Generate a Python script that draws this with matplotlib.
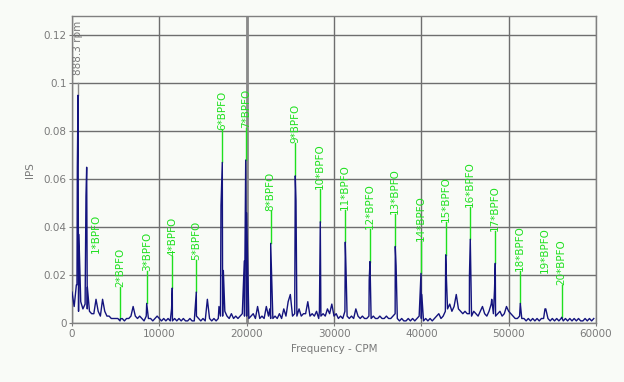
import numpy as np
import matplotlib
matplotlib.use('Agg')
import matplotlib.pyplot as plt
from matplotlib.ticker import FixedLocator, FixedFormatter

# ---------------- data ----------------
bin_width_cpm = 250
noise_floor_ips = [
    0.013, 0.007, 0.016, 0.005, 0.009, 0.006, 0.008, 0.006, 0.005, 0.004,
    0.004, 0.010, 0.005, 0.003, 0.010, 0.005, 0.003, 0.003, 0.002, 0.002,
    0.002, 0.002, 0.001, 0.002, 0.001, 0.002, 0.002, 0.003, 0.007, 0.003,
    0.002, 0.003, 0.002, 0.001, 0.003, 0.002, 0.002, 0.001, 0.002, 0.003,
    0.002, 0.001, 0.002, 0.001, 0.002, 0.001, 0.001, 0.002, 0.001, 0.002,
    0.001, 0.002, 0.001, 0.001, 0.002, 0.001, 0.001, 0.003, 0.002, 0.001,
    0.002, 0.001, 0.010, 0.002, 0.001, 0.002, 0.001, 0.002, 0.003, 0.003,
    0.005, 0.003, 0.002, 0.004, 0.002, 0.003, 0.002, 0.003, 0.004, 0.003,
    0.003, 0.002, 0.003, 0.004, 0.002, 0.007, 0.002, 0.003, 0.002, 0.007,
    0.003, 0.002, 0.002, 0.003, 0.002, 0.004, 0.002, 0.006, 0.003, 0.009,
    0.012, 0.003, 0.004, 0.003, 0.006, 0.003, 0.004, 0.004, 0.009, 0.003,
    0.004, 0.003, 0.005, 0.002, 0.003, 0.004, 0.003, 0.006, 0.004, 0.008,
    0.003, 0.004, 0.002, 0.003, 0.002, 0.005, 0.003, 0.002, 0.003, 0.002,
    0.006, 0.003, 0.002, 0.003, 0.002, 0.002, 0.003, 0.002, 0.003, 0.002,
    0.002, 0.003, 0.002, 0.002, 0.003, 0.002, 0.002, 0.003, 0.004, 0.002,
    0.001, 0.002, 0.001, 0.001, 0.002, 0.001, 0.002, 0.001, 0.002, 0.003,
    0.002, 0.001, 0.002, 0.001, 0.002, 0.001, 0.002, 0.003, 0.004, 0.002,
    0.003, 0.005, 0.006, 0.008, 0.005, 0.007, 0.012, 0.006, 0.005, 0.004,
    0.005, 0.004, 0.004, 0.003, 0.005, 0.004, 0.003, 0.005, 0.007, 0.004,
    0.003, 0.005, 0.008, 0.004, 0.003, 0.004, 0.005, 0.003, 0.004, 0.007,
    0.005, 0.004, 0.003, 0.002, 0.002, 0.003, 0.002, 0.002, 0.001, 0.002,
    0.001, 0.002, 0.001, 0.002, 0.001, 0.002, 0.002, 0.006, 0.002, 0.001,
    0.002, 0.001, 0.002, 0.001, 0.002, 0.001, 0.002, 0.001, 0.002, 0.001,
    0.002, 0.001, 0.002, 0.001, 0.001, 0.002, 0.001, 0.002, 0.001, 0.002,
]

peak_cpm = [570, 610, 690, 790, 1600, 1680, 1760,
            5530, 8553, 11400, 11484, 14130, 14232,
            16830, 17060, 17209, 17330, 19730, 19889, 20000,
            22640, 22751, 25568, 25650, 28330, 28430,
            31294, 31380, 34030, 34121, 37018, 37110,
            39960, 40050, 42788, 42880, 45510, 45605,
            48060, 48380, 48467, 51332, 54158, 56070]
peak_ips = [0.016, 0.065, 0.095, 0.037, 0.053, 0.065, 0.015,
            0.0018, 0.0083, 0.006, 0.0147, 0.008, 0.013,
            0.007, 0.049, 0.067, 0.022, 0.026, 0.068, 0.046,
            0.006, 0.0333, 0.0614, 0.051, 0.005, 0.0423,
            0.0338, 0.022, 0.018, 0.0257, 0.032, 0.024,
            0.0208, 0.012, 0.0285, 0.018, 0.020, 0.035,
            0.010, 0.014, 0.025, 0.0083, 0.006, 0.0025]

harmonic_labels = ['1*BPFO', '2*BPFO', '3*BPFO', '4*BPFO', '5*BPFO',
                   '6*BPFO', '7*BPFO', '8*BPFO', '9*BPFO', '10*BPFO',
                   '11*BPFO', '12*BPFO', '13*BPFO', '14*BPFO', '15*BPFO',
                   '16*BPFO', '17*BPFO', '18*BPFO', '19*BPFO', '20*BPFO']
harmonic_cpm = [2748, 5530, 8553, 11484, 14232, 17209, 19889, 22751,
                25568, 28430, 31294, 34121, 37018, 39960, 42788, 45605,
                48467, 51332, 54158, 56070]
harmonic_ips = [0.0158, 0.0018, 0.0083, 0.0147, 0.013, 0.067, 0.068,
                0.0333, 0.0614, 0.0423, 0.0338, 0.0257, 0.032, 0.0208,
                0.0285, 0.035, 0.025, 0.0083, 0.0073, 0.0025]
harmonic_line = [False] + [True] * 17 + [False, True]

speed_label = '888.3 rpm'
speed_cpm = 690
speed_ips = 0.095
speed_marker_top = 0.1

x_ticks = [0, 10000, 20000, 30000, 40000, 50000, 60000]
x_tick_labels = ['0', '10000', '20000', '30000', '40000', '50000', '60000']
y_ticks = [0, 0.02, 0.04, 0.06, 0.08, 0.1, 0.12]
y_tick_labels = ['0', '0.02', '0.04', '0.06', '0.08', '0.1', '0.12']

# ---------------- build spectrum ----------------
noise_cpm = np.arange(len(noise_floor_ips)) * bin_width_cpm
freq = np.concatenate([noise_cpm, np.array(peak_cpm, float)])
amp = np.concatenate([np.array(noise_floor_ips), np.array(peak_ips)])
order = np.argsort(freq, kind='stable')
freq, amp = freq[order], amp[order]

# ---------------- style ----------------
bg = '#f9fbf7'
grid_c = '#6e6e6e'
text_c = '#7a7a7a'
green = '#1fe01f'
navy = '#14147e'

fig = plt.figure(figsize=(6.24, 3.82), dpi=100, facecolor=bg)
ax = fig.add_axes([72 / 624, 1 - 323.3 / 382, 524 / 624, (323.3 - 16) / 382])
ax.set_facecolor(bg)
ax.set_xlim(0, 60000)
ax.set_ylim(0, 0.128)

ax.xaxis.set_major_locator(FixedLocator(x_ticks))
ax.xaxis.set_major_formatter(FixedFormatter(x_tick_labels))
ax.yaxis.set_major_locator(FixedLocator(y_ticks))
ax.yaxis.set_major_formatter(FixedFormatter(y_tick_labels))
ax.grid(True, color=grid_c, lw=1.0)
ax.set_axisbelow(True)
for s in ax.spines.values():
    s.set_color('#808080')
    s.set_linewidth(1.0)
ax.tick_params(colors=text_c, labelcolor=text_c, labelsize=7.5, length=2,
               pad=2, width=0.8)
ax.set_xlabel('Frequency - CPM', color=text_c, fontsize=7.5, labelpad=4)
ax.set_ylabel('IPS', color=text_c, fontsize=7.5, labelpad=6)

# cursor line
ax.axvline(20000, color='#8a8a8a', lw=2.0, zorder=1.5)

# spectrum
ax.plot(freq, amp, color=navy, lw=1.0, zorder=3)

# BPFO harmonic markers
offset = 0.0135
for lab, f, a, show in zip(harmonic_labels, harmonic_cpm, harmonic_ips, harmonic_line):
    top = a + offset
    if show:
        ax.plot([f, f], [a, top], color=green, lw=1.0, zorder=2.5)
    ax.text(f, top, lab, rotation=90, ha='center', va='bottom', color=green,
            fontsize=7.5, zorder=4)

# running speed marker
ax.plot([speed_cpm, speed_cpm], [speed_ips, speed_marker_top], color='#8a8a8a',
        lw=1.0, zorder=2.5)
ax.text(speed_cpm, speed_marker_top + 0.0035, speed_label, rotation=90,
        ha='center', va='bottom', color=text_c, fontsize=7.5, zorder=4)

fig.savefig('out.png', dpi=100, facecolor=bg)
